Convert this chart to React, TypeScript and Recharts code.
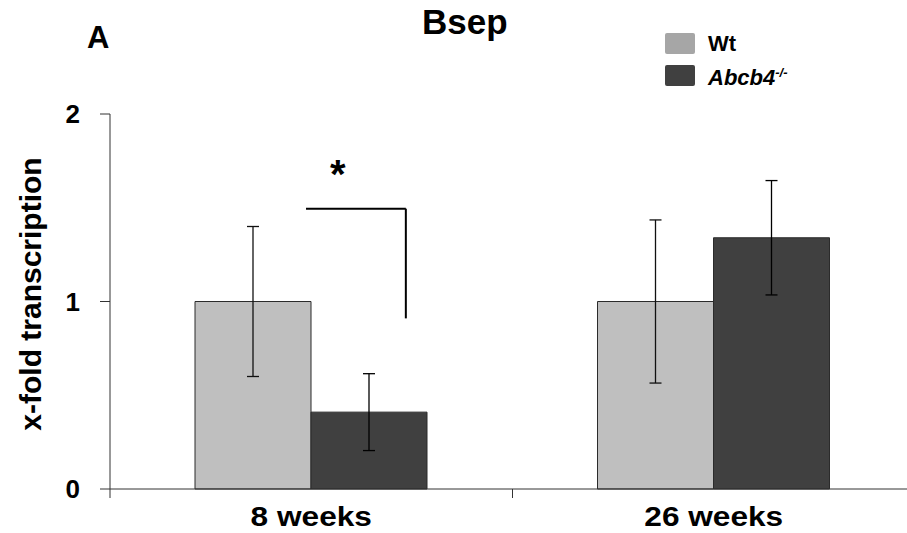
import React from 'react';
import { BarChart, Bar, XAxis, YAxis, ErrorBar, ReferenceLine, ReferenceDot } from 'recharts';

const categories = ['8 weeks', '26 weeks'];
const wtValues = [1.0, 1.0];
const wtErrors = [0.4, 0.435];
const koValues = [0.41, 1.34];
const koErrors = [0.205, 0.305];
const yTicks = [0, 1, 2];

// significance bracket, in (group position, fold) units
const bracketTop = [{ x: 0.487, y: 1.495 }, { x: 0.735, y: 1.495 }];
const bracketSide = [{ x: 0.735, y: 1.495 }, { x: 0.735, y: 0.91 }];
const starAt = { x: 0.566, y: 1.68 };

const chartData = categories.map((name, i) => ({
  name,
  pos: i + 0.5,
  wt: wtValues[i],
  wtErr: wtErrors[i],
  ko: koValues[i],
  koErr: koErrors[i],
}));

const font = '"Liberation Sans", Arial, sans-serif';

// category label plus small tick marks at the group boundaries
function GroupTick(props: any) {
  const { x, y, width, visibleTicksCount, payload } = props;
  const half = width / visibleTicksCount / 2;
  return (
    <g>
      <line x1={x - half} y1={y} x2={x - half} y2={y + 9} stroke="#333" />
      <line x1={x + half} y1={y} x2={x + half} y2={y + 9} stroke="#333" />
      <g transform={`translate(${x},${y + 17}) scale(1.13,1)`}>
        <text x={0} y={0} dy="0.72em" textAnchor="middle" fill="#000" fontSize={28} fontWeight={700} fontFamily={font}>
          {payload.value}
        </text>
      </g>
    </g>
  );
}

export default function App() {
  return (
    <div style={{ position: 'relative', width: 907, height: 533, overflow: 'hidden', fontFamily: font, background: '#fff' }}>
      <style>{'body{margin:0;}'}</style>
      <div style={{ position: 'absolute', left: 87, top: 22, fontSize: 31, fontWeight: 700, lineHeight: 1 }}>A</div>
      <div style={{ position: 'absolute', left: 422, top: 4, fontSize: 35, fontWeight: 700, lineHeight: 1 }}>Bsep</div>
      <div
        style={{
          position: 'absolute',
          left: 31,
          top: 294,
          transform: 'translate(-50%, -50%) rotate(-90deg)',
          fontSize: 30,
          fontWeight: 700,
          whiteSpace: 'nowrap',
          lineHeight: 1,
        }}
      >
        x-fold transcription
      </div>

      <div style={{ position: 'absolute', left: 665, top: 33, display: 'flex', alignItems: 'center' }}>
        <div style={{ width: 30, height: 21, background: '#a6a6a6', borderRadius: 2 }} />
        <span style={{ marginLeft: 13, fontSize: 22, fontWeight: 700, lineHeight: '21px' }}>Wt</span>
      </div>
      <div style={{ position: 'absolute', left: 665, top: 62, display: 'flex', alignItems: 'center' }}>
        <div style={{ width: 30, height: 21, background: '#404040', borderRadius: 2 }} />
        <span style={{ marginLeft: 13, fontSize: 22, fontWeight: 700, fontStyle: 'italic', lineHeight: '21px' }}>
          Abcb4<sup style={{ fontSize: 13, verticalAlign: 8 }}>-/-</sup>
        </span>
      </div>

      <div style={{ position: 'absolute', left: 0, top: 0 }}>
        <BarChart
          width={915}
          height={533}
          data={chartData}
          margin={{ top: 114, right: 0, bottom: 0, left: 0 }}
          barGap={0}
          barSize={116}
        >
          <XAxis xAxisId="grp" dataKey="pos" type="number" domain={[0, 2]} hide allowDataOverflow />
          <XAxis
            dataKey="name"
            height={44}
            stroke="#333"
            tickLine={false}
            tickSize={0}
            tickMargin={0}
            tick={<GroupTick />}
          />
          <YAxis
            width={110}
            domain={[0, 2]}
            ticks={yTicks}
            tickSize={10}
            tickMargin={20}
            stroke="#333"
            tick={{ fill: '#000', fontSize: 26, fontWeight: 700, fontFamily: font }}
          />
          <Bar dataKey="wt" fill="#bfbfbf" stroke="#2b2b2b" strokeWidth={1} isAnimationActive={false}>
            <ErrorBar dataKey="wtErr" width={6} stroke="#111" strokeWidth={1.3} />
          </Bar>
          <Bar dataKey="ko" fill="#404040" stroke="#2b2b2b" strokeWidth={1} isAnimationActive={false}>
            <ErrorBar dataKey="koErr" width={6} stroke="#000" strokeWidth={1.3} />
          </Bar>
          <ReferenceLine xAxisId="grp" segment={bracketTop} stroke="#000" strokeWidth={2} ifOverflow="visible" />
          <ReferenceLine xAxisId="grp" segment={bracketSide} stroke="#000" strokeWidth={2} ifOverflow="visible" />
          <ReferenceDot
            xAxisId="grp"
            x={starAt.x}
            y={starAt.y}
            r={0}
            fill="none"
            stroke="none"
            ifOverflow="visible"
            label={{ value: '*', fill: '#000', fontSize: 40, fontWeight: 700, fontFamily: font }}
          />
        </BarChart>
      </div>
    </div>
  );
}
